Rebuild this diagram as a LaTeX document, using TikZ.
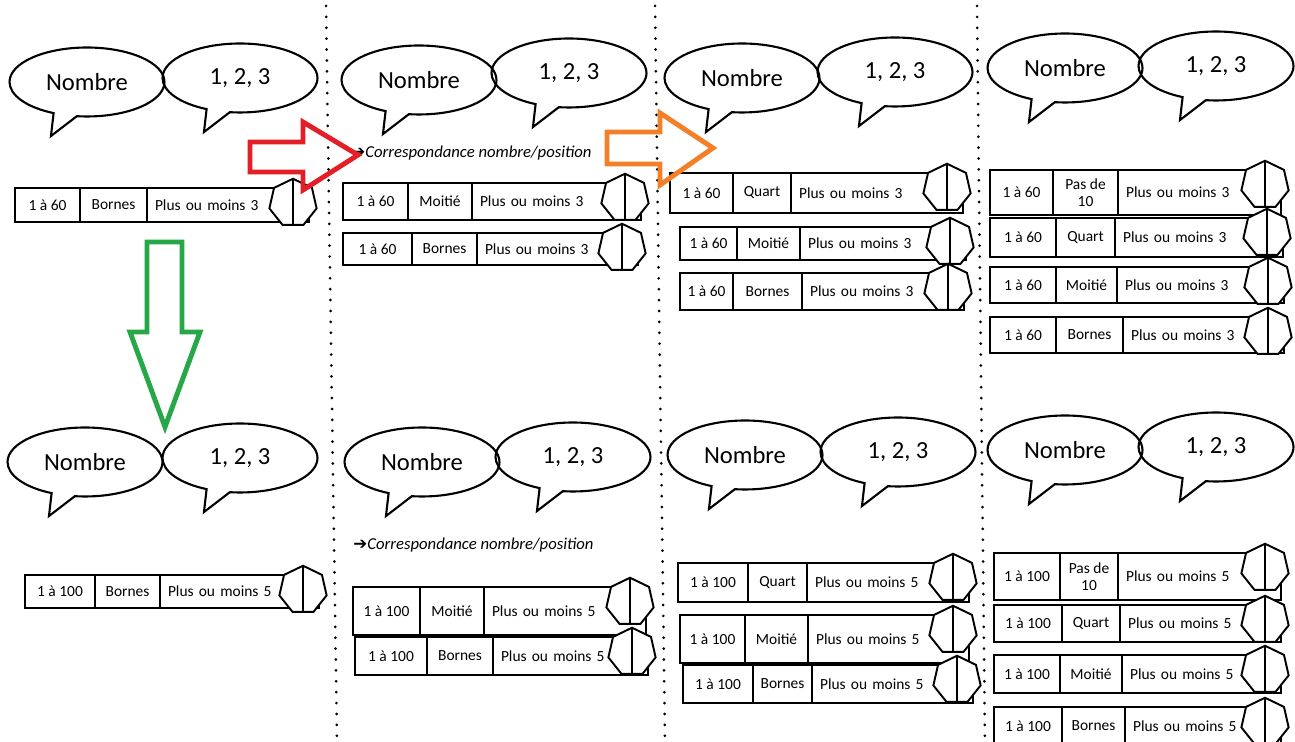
\documentclass[tikz,border=0pt]{standalone}
\usepackage{fontspec}
\setmainfont{Carlito}
\newfontfamily\symbfont{DejaVu Sans}
\usepackage{tikz}
\usetikzlibrary{shapes, shapes.callouts, positioning}
\definecolor{rouge}{RGB}{228,30,38}
\definecolor{orangef}{RGB}{243,128,40}
\definecolor{vert}{RGB}{38,168,72}
\tikzstyle{bulle} = [ellipse callout, draw, line width=1.2pt, minimum width=3.1cm, minimum height=1.38cm, inner sep=0pt, callout relative pointer={(-0.28cm,-0.42cm)}, callout pointer arc=18, font=\fontsize{14}{16}\selectfont]
\tikzstyle{case} = [rectangle, draw, line width=0.9pt, outer sep=0pt, inner sep=1pt, anchor=north west, align=center, font=\fontsize{8.8}{9.8}\selectfont]
\tikzstyle{cadran} = [regular polygon, regular polygon sides=7, draw, line width=1.1pt, fill=white, minimum size=0.97cm, inner sep=0pt]
\tikzstyle{pointille} = [line width=1.7pt, dash pattern=on 0pt off 6.2pt, line cap=round]
\tikzstyle{fleche} = [line width=2.8pt, line join=miter]
\tikzstyle{titre} = [anchor=west, inner sep=0pt, font=\fontsize{9.5}{11}\selectfont\itshape]

\begin{document}
\begin{tikzpicture}[x=0.02cm, y=-0.02cm]
			\useasboundingbox (0,0) rectangle (1295,742);
			% Separateurs
			\draw[pointille] (326,6) -- (337,742);
			\draw[pointille] (655,6) -- (665,742);
			\draw[pointille] (977,6) -- (985,742);

			% Bandes
			\foreach \n/\x/\y/\h/\wa/\wb/\wc/\ta/\tb/\tc in {
				a1/15/188/34/65/67/162/1 à 60/Bornes/Plus ou moins 3,
				a2/25/575/33/70/65/159/1 à 100/Bornes/Plus ou moins 5,
				b1/343/183/37/65/64/169/1 à 60/Moitié/Plus ou moins 3,
				b2/343/233/32/69/65/161/1 à 60/Bornes/Plus ou moins 3,
				b3/353/587/48/67/64/162/1 à 100/Moitié/Plus ou moins 5,
				b4/355/637/38/72/66/155/1 à 100/Bornes/Plus ou moins 5,
				c1/670/173/40/63/58/172/1 à 60/Quart/Plus ou moins 3,
				c2/680/227/33/57/63/166/1 à 60/Moitié/Plus ou moins 3,
				c3/680/273/37/53/69/162/1 à 60/Bornes/Plus ou moins 3,
				c4/678/563/39/70/59/162/1 à 100/Quart/Plus ou moins 5,
				c5/680/615/48/65/63/161/1 à 100/Moitié/Plus ou moins 5,
				c6/683/665/38/70/59/161/1 à 100/Bornes/Plus ou moins 5,
				d1/990/170/45/63/65/163/1 à 60/Pas de\\10/Plus ou moins 3,
				d2/990/218/39/66/59/168/1 à 60/Quart/Plus ou moins 3,
				d3/990/267/36/66/61/167/1 à 60/Moitié/Plus ou moins 3,
				d4/990/317/36/66/67/161/1 à 60/Bornes/Plus ou moins 3,
				d5/994/553/47/66/58/163/1 à 100/Pas de\\10/Plus ou moins 5,
				d6/994/605/37/68/58/161/1 à 100/Quart/Plus ou moins 5,
				d7/994/655/38/66/62/159/1 à 100/Moitié/Plus ou moins 5,
				d8/994/707/38/68/63/156/1 à 100/Bornes/Plus ou moins 5}
			{
				\node [case, minimum height=\h*0.02cm, minimum width=\wa*0.02cm] (\n-a) at (\x,\y) {\ta};
				\node [case, minimum height=\h*0.02cm, minimum width=\wb*0.02cm, right=0pt of \n-a] (\n-b) {\tb};
				\node [case, minimum height=\h*0.02cm, minimum width=\wc*0.02cm, text width=(\wc-16)*0.02cm, align=left, right=0pt of \n-b] (\n-c) {\tc};
				\node [cadran] (\n-h) at ([xshift=-0.32cm, yshift=-0.3cm]\n-c.north east) {};
				\draw [line width=1.1pt] (\n-h.north) -- (\n-h.south);
			}

			% Bulles
			\foreach \n/\x/\y/\u/\v in {1/87/82/240/78, 2/419/80/569/73, 3/742/78/895/72, 4/1065/68/1216/66,
				5/85/462/240/458, 6/422/462/573/457, 7/745/455/898/452, 8/1065/450/1216/447}
			{
				\node [bulle] (nb\n) at (\x,\y) {Nombre};
				\node [bulle] (ch\n) at (\u,\v) {1, 2, 3};
			}

			% Titres
			\node [titre] (corr1) at (351,153) {{\symbfont ➔}Correspondance nombre/position};
			\node [titre] (corr2) at (353,545) {{\symbfont ➔}Correspondance nombre/position};

			% Fleches
			\draw [fleche, rouge] (250,142) -- (303,142) -- (303,122) -- (358,155) -- (303,190) -- (303,172) -- (250,172) -- cycle;
			\draw [fleche, orangef] (607,132) -- (660,132) -- (660,113) -- (713,148) -- (660,185) -- (660,164) -- (607,164) -- cycle;
			\draw [fleche, vert] (147,242) -- (182,242) -- (182,332) -- (200,332) -- (165,427) -- (130,332) -- (147,332) -- cycle;
		\end{tikzpicture}
\end{document}
